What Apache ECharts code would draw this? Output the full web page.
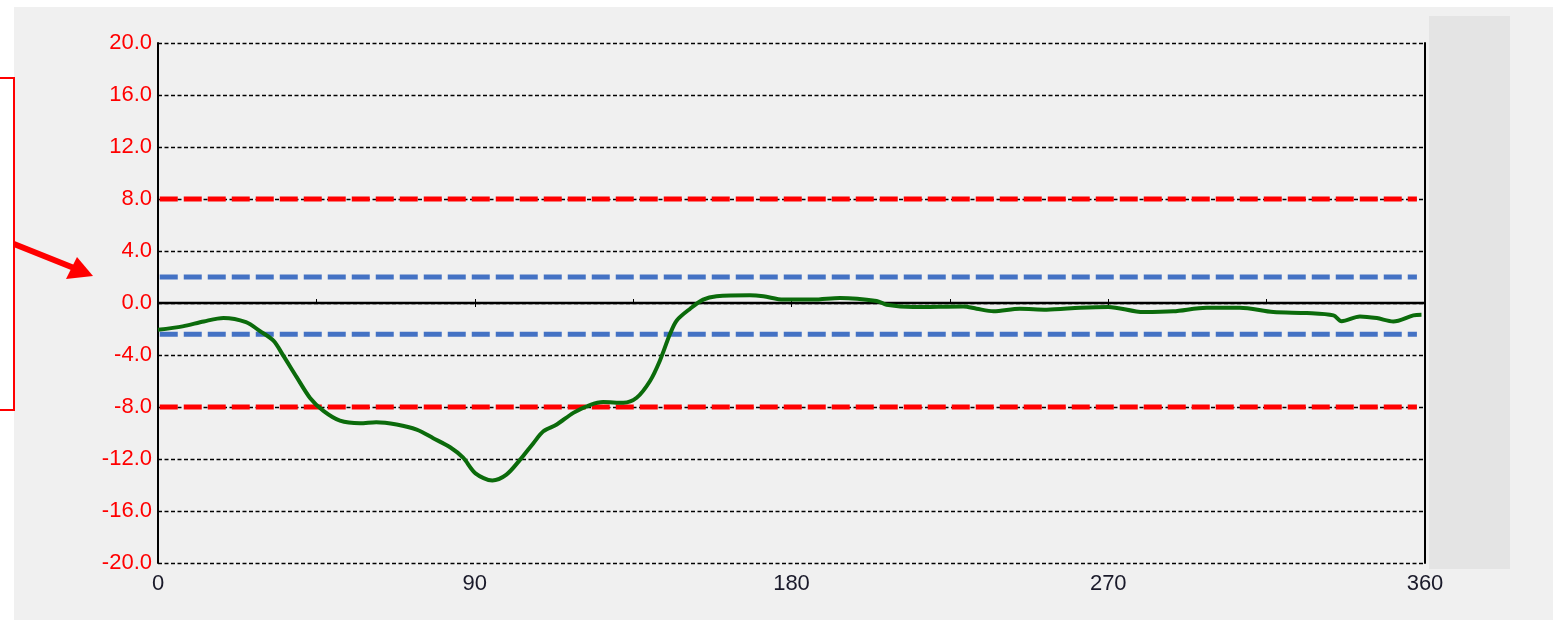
<!DOCTYPE html>
<html>
<head>
<meta charset="utf-8">
<script src="https://cdn.jsdelivr.net/npm/echarts@6/dist/echarts.min.js"></script>
<style>
  html, body { margin: 0; padding: 0; background: #ffffff; }
  #chart { width: 1556px; height: 620px; }
</style>
</head>
<body>
<div id="chart"></div>
<script>
// Deviation profile over one revolution (degrees)
const angles = [0, 7, 13, 18.6, 25, 29, 32.8, 35.6, 39.4, 43.2, 47, 51.7, 57.4, 62, 67.8, 73.5, 78.2, 83, 86.7, 90.2,
  95, 99, 102.9, 106.6, 109.5, 113.3, 118, 122.7, 126.5, 132.2, 136, 139.8, 142.6, 145.5, 147.4, 151.2, 154.9, 158.7,
  168.2, 172, 177.7, 186.2, 193.8, 204.2, 207, 214.6, 228.8, 232.6, 237.4, 244.9, 252.5, 262, 270, 280, 288.5, 298,
  307.4, 316.9, 326.4, 334, 336.3, 341.5, 346.3, 351, 356.7, 359];
const values = [-2.06, -1.8, -1.42, -1.15, -1.47, -2.17, -2.9, -4.05, -5.7, -7.3, -8.3, -9.05, -9.25, -9.17, -9.35, -9.74, -10.4, -11.1, -11.9, -13.1,
  -13.65, -13.2, -12.05, -10.8, -9.87, -9.35, -8.45, -7.85, -7.62, -7.67, -7.29, -6.0, -4.44, -2.37, -1.34, -0.44, 0.26, 0.52,
  0.6, 0.52, 0.26, 0.26, 0.39, 0.16, -0.13, -0.31, -0.26, -0.44, -0.64, -0.44, -0.51, -0.36, -0.3, -0.7, -0.64, -0.36,
  -0.36, -0.7, -0.77, -0.95, -1.4, -1.03, -1.16, -1.42, -0.95, -0.9];

// Tolerance bands
const limitSpan = [0.5, 357.7];
const outerUpper = 8.0;
const outerLower = -8.0;
const innerUpper = 2.0;
const innerLower = -2.4;

// Axis ranges and ticks
const xMin = 0, xMax = 360, xStep = 90;
const yMin = -20, yMax = 20, yStep = 4;

const curve = angles.map((a, i) => [a, values[i]]);
const band = v => limitSpan.map(x => [x, v]);

const chart = echarts.init(document.getElementById('chart'), null, { renderer: 'canvas' });

const labelFont = 'Liberation Sans, Arial, sans-serif';

chart.setOption({
  animation: false,
  backgroundColor: '#ffffff',
  graphic: [
    { type: 'rect', z: -10, silent: true, shape: { x: 14, y: 7, width: 1539, height: 620 }, style: { fill: '#f0f0f0' } },
    { type: 'rect', z: -9, silent: true, shape: { x: 1429, y: 16, width: 81, height: 553 }, style: { fill: '#e4e4e4' } },
    { type: 'polyline', z: 10, silent: true, shape: { points: [[-4, 78], [14, 78], [14, 410], [-4, 410]] },
      style: { stroke: '#ff0000', lineWidth: 2, fill: null } },
    { type: 'line', z: 10, silent: true, shape: { x1: 14, y1: 244, x2: 74, y2: 268 },
      style: { stroke: '#ff0000', lineWidth: 6 } },
    { type: 'polygon', z: 10, silent: true, shape: { points: [[66, 279], [77, 257], [93, 276]] },
      style: { fill: '#ff0000' } }
  ],
  grid: { left: 158, right: 131, top: 43, bottom: 57, containLabel: false },
  xAxis: [
    {
      type: 'value', min: xMin, max: xMax, interval: xStep,
      axisLine: { show: false },
      axisTick: { show: true, inside: true, length: 4, lineStyle: { color: '#000', width: 1 } },
      minorTick: { show: true, splitNumber: 2, length: 4, lineStyle: { color: '#000', width: 1 } },
      splitLine: { show: false },
      axisLabel: { color: '#1a1a2a', fontSize: 22, fontFamily: labelFont, margin: 10 }
    },
    {
      type: 'value', min: xMin, max: xMax, interval: xStep, position: 'bottom',
      axisLine: { show: false },
      axisTick: { show: true, inside: false, length: 4, lineStyle: { color: '#000', width: 1 } },
      axisLabel: { show: false },
      splitLine: { show: false }
    }
  ],
  yAxis: [
    {
      type: 'value', min: yMin, max: yMax, interval: yStep,
      axisLine: { show: true, onZero: false, lineStyle: { color: '#000', width: 2 } },
      axisTick: { show: false },
      splitLine: { show: true, lineStyle: { color: '#000', width: 1.4, type: [4, 2.5] } },
      axisLabel: { color: '#ff0000', fontSize: 22, fontFamily: labelFont, margin: 6,
        formatter: v => v.toFixed(1) }
    },
    {
      type: 'value', min: yMin, max: yMax, interval: yStep, position: 'right',
      axisLine: { show: true, onZero: false, lineStyle: { color: '#000', width: 2 } },
      axisTick: { show: false },
      axisLabel: { show: false },
      splitLine: { show: false }
    }
  ],
  series: [
    {
      name: 'zero', type: 'line', data: [[xMin, 0], [xMax, 0]], symbol: 'none', z: 3,
      lineStyle: { color: '#000', width: 2.5 }
    },
    {
      name: 'outer+', type: 'line', data: band(outerUpper), symbol: 'none', z: 4,
      lineStyle: { color: '#ff0000', width: 5, type: [18, 6] }
    },
    {
      name: 'outer-', type: 'line', data: band(outerLower), symbol: 'none', z: 4,
      lineStyle: { color: '#ff0000', width: 5, type: [18, 6] }
    },
    {
      name: 'inner+', type: 'line', data: band(innerUpper), symbol: 'none', z: 4,
      lineStyle: { color: '#4472c4', width: 5, type: [18, 6] }
    },
    {
      name: 'inner-', type: 'line', data: band(innerLower), symbol: 'none', z: 4,
      lineStyle: { color: '#4472c4', width: 5, type: [18, 6] }
    },
    {
      name: 'profile', type: 'line', data: curve, symbol: 'none', smooth: 0.3, z: 5,
      lineStyle: { color: '#0b6b0b', width: 4 }
    }
  ]
});
</script>
</body>
</html>
